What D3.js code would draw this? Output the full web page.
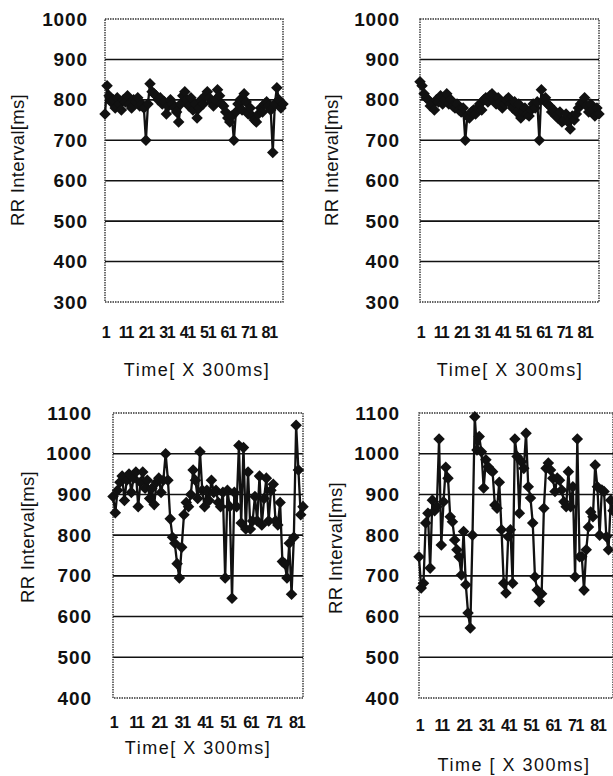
<!DOCTYPE html>
<html>
<head>
<meta charset="utf-8">
<script src="https://cdn.jsdelivr.net/npm/d3@7"></script>
<style>
  body { margin: 0; background: #fff; }
  svg { display: block; }
  .tick text { font-family: "Liberation Sans", Arial, sans-serif; font-weight: bold; fill: #111; }
  .ttl { font-family: "Liberation Sans", Arial, sans-serif; fill: #111; }
</style>
</head>
<body>
<svg id="chart" width="613" height="776"></svg>
<script>
// RR interval series (one value per 300ms step)
var rrTopLeft = [765, 835, 810, 795, 800, 780, 805, 790, 775, 800, 795, 810, 790, 780, 800, 795,
    805, 785, 790, 780, 700, 790, 840, 820, 815, 810, 800, 805, 790, 795, 765, 785, 800, 790,
    780, 770, 745, 790, 810, 820, 800, 785, 805, 775, 790, 755, 780, 800, 790, 810, 820, 805,
    795, 785, 800, 825, 810, 790, 785, 770, 755, 745, 760, 700, 770, 790, 800, 775, 815, 795,
    765, 780, 760, 750, 745, 765, 780, 770, 790, 795, 785, 775, 670, 790, 830, 800, 780, 790];

var rrTopRight = [845, 835, 815, 805, 800, 785, 790, 775, 800, 795, 810, 790, 800, 815, 790, 800,
    785, 780, 790, 775, 770, 780, 700, 760, 755, 770, 775, 765, 780, 790, 775, 800, 805, 795,
    810, 815, 800, 790, 805, 795, 780, 790, 800, 805, 790, 780, 795, 770, 790, 755, 770, 780,
    765, 760, 775, 790, 780, 795, 700, 825, 800, 805, 790, 785, 770, 775, 760, 755, 770, 745,
    750, 765, 745, 728, 760, 750, 765, 780, 790, 795, 805, 785, 770, 790, 775, 760, 780, 765];

var rrBottomLeft = [895, 855, 910, 930, 945, 885, 935, 950, 905, 940, 955, 870, 930, 955, 915, 935,
    890, 915, 875, 930, 940, 905, 935, 1000, 935, 840, 795, 780, 730, 695, 770, 850, 880, 870,
    900, 960, 935, 890, 1005, 910, 870, 910, 885, 935, 905, 910, 880, 870, 905, 695, 910, 870,
    645, 905, 870, 1020, 830, 1015, 815, 955, 815, 835, 895, 835, 945, 825, 890, 940, 835, 910,
    925, 835, 825, 880, 735, 730, 695, 780, 655, 795, 1070, 960, 850, 870];

var rrBottomRight = [747, 670, 682, 830, 854, 719, 886, 860, 870, 1036, 776, 882, 967, 940, 845, 833,
    788, 764, 747, 702, 809, 678, 609, 572, 800, 1091, 1009, 1042, 1005, 916, 985, 968, 960, 956,
    874, 866, 930, 813, 682, 658, 796, 813, 682, 1036, 993, 854, 980, 964, 1050, 919, 891, 830,
    698, 665, 637, 656, 866, 964, 977, 960, 940, 907, 940, 935, 911, 882, 870, 956, 870, 919,
    698, 1036, 747, 747, 665, 764, 820, 857, 845, 972, 919, 800, 911, 907, 796, 764, 886, 860];

var yTicksTop = [300, 400, 500, 600, 700, 800, 900, 1000];
var yTicksBottom = [400, 500, 600, 700, 800, 900, 1000, 1100];
var timeTicks = [1, 11, 21, 31, 41, 51, 61, 71, 81];

var yTitle = "RR Interval[ms]";

var panels = [
    {data: rrTopLeft, yTicks: yTicksTop, x0: 105, x1: 283, y0: 19, y1: 302,
        tickRight: 88, yTitleX: 18, yTitleY: 160, xLabY: 340, xTitleX: 197, xTitleY: 376,
        xTitle: "Time[ X 300ms]"},
    {data: rrTopRight, yTicks: yTicksTop, x0: 420, x1: 599, y0: 19, y1: 302,
        tickRight: 400, yTitleX: 332, yTitleY: 160, xLabY: 340, xTitleX: 510, xTitleY: 376,
        xTitle: "Time[ X 300ms]"},
    {data: rrBottomLeft, yTicks: yTicksBottom, x0: 113, x1: 303, y0: 413, y1: 698,
        tickRight: 92, yTitleX: 28, yTitleY: 537, xLabY: 730, xTitleX: 198, xTitleY: 754,
        xTitle: "Time[ X 300ms]"},
    {data: rrBottomRight, yTicks: yTicksBottom, x0: 419, x1: 613, y0: 413, y1: 698,
        tickRight: 400, yTitleX: 336, yTitleY: 548, xLabY: 733, xTitleX: 514, xTitleY: 771,
        xTitle: "Time [ X 300ms]"}
];

var svg = d3.select('#chart');

function drawPanel(p) {
    var g = svg.append('g'),
        n = p.data.length,
        x = d3.scalePoint().domain(d3.range(1, n + 1)).range([p.x0, p.x1]),
        y = d3.scaleLinear().domain(d3.extent(p.yTicks)).range([p.y1, p.y0]);

    // grid lines
    g.append('g').selectAll('line')
        .data(p.yTicks.slice(1, -1)).enter()
        .append('line')
        .attr('x1', p.x0).attr('x2', p.x1)
        .attr('y1', function(d) { return y(d); })
        .attr('y2', function(d) { return y(d); })
        .attr('stroke', '#111').attr('stroke-width', 1.6);

    // plot area border (dotted, like the scan)
    g.append('rect')
        .attr('x', p.x0).attr('y', p.y0)
        .attr('width', p.x1 - p.x0).attr('height', p.y1 - p.y0)
        .attr('fill', 'none').attr('stroke', '#333')
        .attr('stroke-width', 1.4).attr('stroke-dasharray', '1.5,1');

    // y axis labels
    var yAxis = d3.axisLeft(y).tickValues(p.yTicks).tickFormat(d3.format('d'))
        .tickSize(0).tickPadding(0);
    g.append('g')
        .attr('transform', 'translate(' + p.tickRight + ',0)')
        .call(yAxis)
        .call(function(s) { s.select('.domain').remove(); })
        .selectAll('text')
        .attr('font-size', 19).attr('letter-spacing', 0.9);

    // x axis labels
    var xAxis = d3.axisBottom(x).tickValues(timeTicks).tickSize(0).tickPadding(0);
    g.append('g')
        .attr('transform', 'translate(0,' + (p.xLabY - 13) + ')')
        .call(xAxis)
        .call(function(s) { s.select('.domain').remove(); })
        .selectAll('text')
        .attr('font-size', 16).attr('letter-spacing', -1.2).attr('dy', '0.71em');

    // series line
    var line = d3.line()
        .x(function(d, i) { return x(i + 1); })
        .y(function(d) { return y(d); });
    g.append('path')
        .datum(p.data)
        .attr('d', line)
        .attr('fill', 'none').attr('stroke', '#111')
        .attr('stroke-width', 2.3).attr('stroke-linejoin', 'round');

    // diamond markers
    var diamond = d3.symbol().type(d3.symbolDiamond2).size(85);
    g.append('g').selectAll('path')
        .data(p.data).enter()
        .append('path')
        .attr('d', diamond)
        .attr('transform', function(d, i) { return 'translate(' + x(i + 1) + ',' + y(d) + ')'; })
        .attr('fill', '#111');

    // titles
    g.append('text')
        .attr('class', 'ttl')
        .attr('transform', 'translate(' + p.yTitleX + ',' + p.yTitleY + ') rotate(-90)')
        .attr('text-anchor', 'middle').attr('dy', '0.35em')
        .attr('font-size', 18.5).attr('letter-spacing', 0.3)
        .text(yTitle);

    g.append('text')
        .attr('class', 'ttl')
        .attr('x', p.xTitleX).attr('y', p.xTitleY)
        .attr('text-anchor', 'middle')
        .attr('font-size', 18).attr('letter-spacing', 1.5)
        .text(p.xTitle);
}

panels.forEach(drawPanel);
</script>
</body>
</html>
